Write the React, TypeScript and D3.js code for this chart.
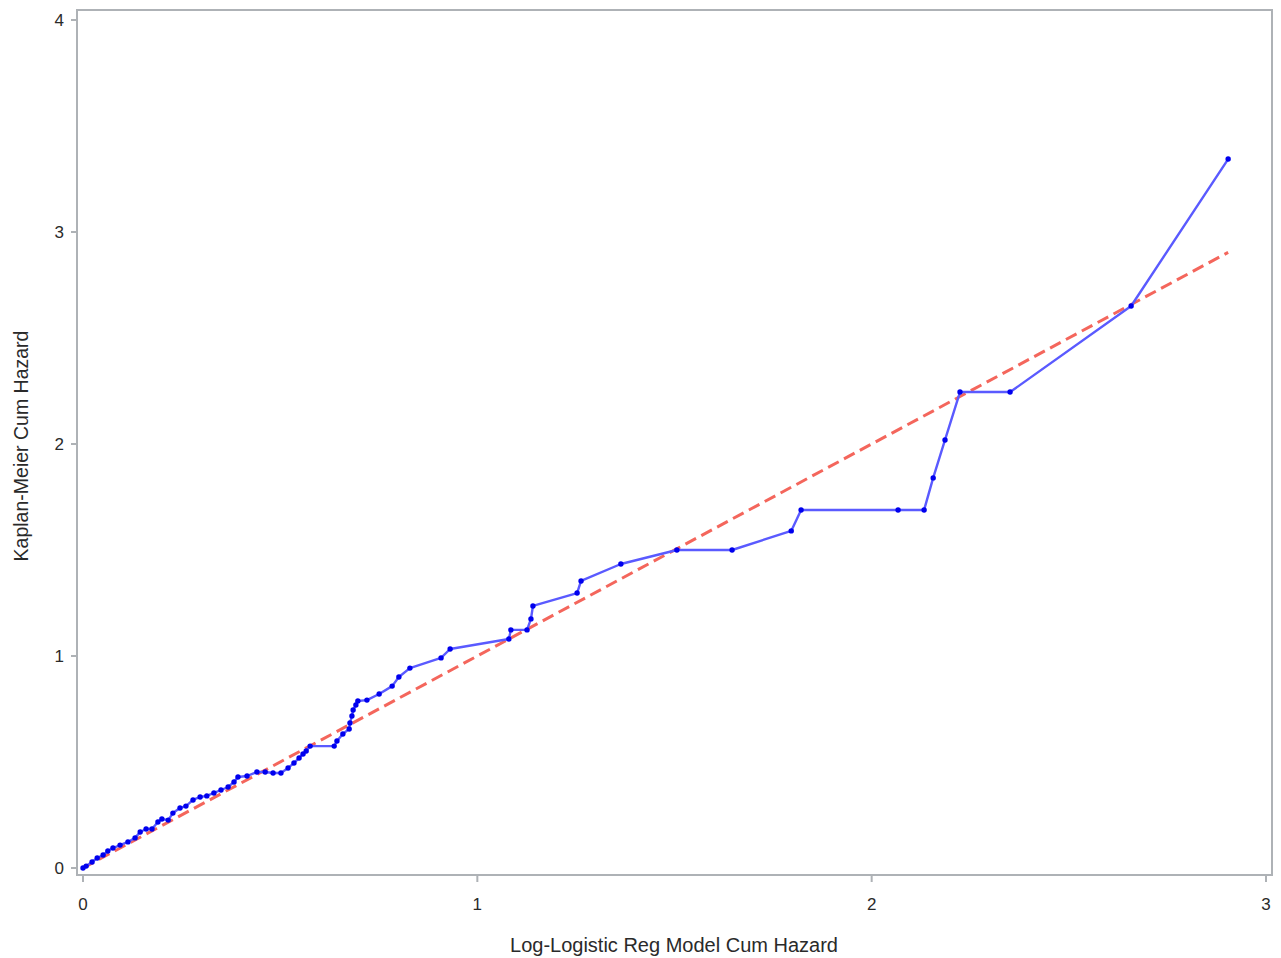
import React from "react";
import * as d3 from "d3";

// Model-based cumulative hazard (x) vs Kaplan-Meier cumulative hazard (y)
const modelCumHazard: number[] = [
  0.0, 0.008, 0.023, 0.036, 0.051, 0.063, 0.076, 0.094, 0.114, 0.132,
  0.145, 0.16, 0.175, 0.19, 0.2, 0.216, 0.228, 0.246, 0.261, 0.279,
  0.297, 0.314, 0.332, 0.35, 0.368, 0.383, 0.393, 0.416, 0.441, 0.462,
  0.482, 0.502, 0.52, 0.535, 0.548, 0.558, 0.566, 0.576, 0.637, 0.644,
  0.659, 0.675, 0.677, 0.682, 0.685, 0.692, 0.697, 0.72, 0.751, 0.784,
  0.801, 0.829, 0.908, 0.931, 1.08, 1.085, 1.126, 1.136, 1.141, 1.253,
  1.263, 1.364, 1.506, 1.646, 1.796, 1.821, 2.067, 2.133, 2.156, 2.186,
  2.224, 2.351, 2.658, 2.904,
];
const kmCumHazard: number[] = [
  0.0, 0.009, 0.028, 0.047, 0.061, 0.08, 0.094, 0.108, 0.123, 0.142,
  0.17, 0.184, 0.184, 0.217, 0.231, 0.226, 0.259, 0.283, 0.292, 0.321,
  0.335, 0.34, 0.354, 0.368, 0.382, 0.406, 0.429, 0.434, 0.453, 0.453,
  0.448, 0.448, 0.472, 0.495, 0.519, 0.538, 0.552, 0.575, 0.575, 0.599,
  0.632, 0.656, 0.684, 0.717, 0.745, 0.769, 0.788, 0.792, 0.821, 0.858,
  0.901, 0.943, 0.991, 1.033, 1.08, 1.123, 1.123, 1.175, 1.236, 1.297,
  1.354, 1.434, 1.5, 1.5, 1.59, 1.689, 1.689, 1.689, 1.84, 2.019,
  2.245, 2.245, 2.651, 3.344,
];

// Reference diagonal (equal cumulative hazards)
const refX: number[] = [0, 2.904];
const refY: number[] = [0, 2.904];

const xTicks: number[] = [0, 1, 2, 3];
const yTicks: number[] = [0, 1, 2, 3, 4];

const xTitle = "Log-Logistic Reg Model Cum Hazard";
const yTitle = "Kaplan-Meier Cum Hazard";

export default function App() {
  const W = 1281;
  const H = 958;
  const frame = { left: 77, right: 1272, top: 10, bottom: 875 };

  const x = d3.scaleLinear().domain([0, 3]).range([83, 1266]);
  const y = d3.scaleLinear().domain([0, 4]).range([868, 20]);

  const pts = modelCumHazard.map((v, i) => [v, kmCumHazard[i]] as [number, number]);
  const ref = refX.map((v, i) => [v, refY[i]] as [number, number]);

  const line = d3
    .line<[number, number]>()
    .x((d) => x(d[0]))
    .y((d) => y(d[1]));

  const font = "'Liberation Sans', Arial, Helvetica, sans-serif";
  const frameColor = "#aeb2b6";
  const textColor = "#2a2a2a";

  return (
    <svg
      width={W}
      height={H}
      style={{ position: "absolute", left: 0, top: 0, background: "#fff" }}
      fontFamily={font}
    >
      <rect x={0} y={0} width={W} height={H} fill="#fff" />

      {/* data */}
      <path
        d={line(ref) ?? ""}
        fill="none"
        stroke="#f4665c"
        strokeWidth={3}
        strokeDasharray="12,6"
      />
      <path
        d={line(pts) ?? ""}
        fill="none"
        stroke="#5a5aff"
        strokeWidth={2.4}
        strokeLinejoin="round"
      />
      {pts.map((d, i) => (
        <circle key={i} cx={x(d[0])} cy={y(d[1])} r={2.7} fill="#0000ee" />
      ))}

      {/* frame */}
      <rect
        x={frame.left}
        y={frame.top}
        width={frame.right - frame.left}
        height={frame.bottom - frame.top}
        fill="none"
        stroke={frameColor}
        strokeWidth={2}
      />

      {/* x axis */}
      {xTicks.map((t) => (
        <g key={"x" + t}>
          <line
            x1={x(t)}
            x2={x(t)}
            y1={frame.bottom}
            y2={frame.bottom + 7}
            stroke={frameColor}
            strokeWidth={2}
          />
          <text
            x={x(t)}
            y={910}
            textAnchor="middle"
            fontSize={17}
            fill={textColor}
          >
            {t}
          </text>
        </g>
      ))}

      {/* y axis */}
      {yTicks.map((t) => (
        <g key={"y" + t}>
          <line
            x1={frame.left - 6}
            x2={frame.left}
            y1={y(t)}
            y2={y(t)}
            stroke={frameColor}
            strokeWidth={2}
          />
          <text
            x={frame.left - 13}
            y={y(t) + 6}
            textAnchor="end"
            fontSize={17}
            fill={textColor}
          >
            {t}
          </text>
        </g>
      ))}

      {/* titles */}
      <text
        x={674}
        y={952}
        textAnchor="middle"
        fontSize={20}
        fill={textColor}
      >
        {xTitle}
      </text>
      <text
        transform={`translate(28, ${446}) rotate(-90)`}
        textAnchor="middle"
        fontSize={19.5}
        fill={textColor}
      >
        {yTitle}
      </text>
    </svg>
  );
}
